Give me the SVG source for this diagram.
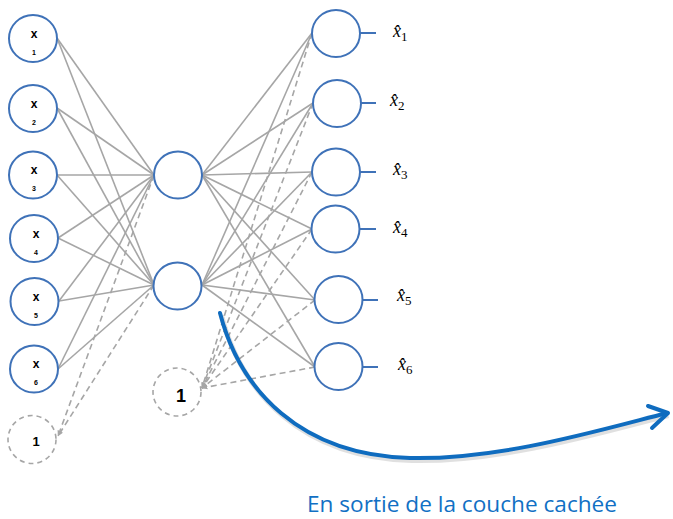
<svg xmlns="http://www.w3.org/2000/svg" width="673" height="519" viewBox="0 0 673 519">
<style>
.n{fill:#fff;stroke:#3F72B8;stroke-width:2}
.b{fill:#fff;stroke:#A6A6A6;stroke-width:1.6;stroke-dasharray:5 4}
.e{stroke:#A6A6A6;stroke-width:1.6;fill:none}
.d{stroke:#A6A6A6;stroke-width:1.6;fill:none;stroke-dasharray:6 4;marker-end:url(#ah)}
.o{stroke:#3F72B8;stroke-width:2}
.xl{font-family:"Liberation Sans",Arial,sans-serif;font-weight:bold;fill:#000;text-anchor:middle}
.hl{font-family:"Liberation Serif","DejaVu Serif",serif;font-size:18px;fill:#000}
</style>
<defs>
<marker id="ah" viewBox="0 0 10 10" refX="9" refY="5" markerWidth="6" markerHeight="6" orient="auto" markerUnits="userSpaceOnUse">
<path d="M0,1 L10,5 L0,9 Z" fill="#A6A6A6"/>
</marker>
</defs>
<g id="connectors">
<g id="in-hidden">
<line class="e" x1="57" y1="38" x2="154" y2="175"/><line class="e" x1="57" y1="38" x2="154" y2="285"/>
<line class="e" x1="57" y1="108" x2="154" y2="175"/><line class="e" x1="57" y1="108" x2="154" y2="285"/>
<line class="e" x1="57" y1="175" x2="154" y2="175"/><line class="e" x1="57" y1="175" x2="154" y2="285"/>
<line class="e" x1="58" y1="238" x2="154" y2="175"/><line class="e" x1="58" y1="238" x2="154" y2="285"/>
<line class="e" x1="59" y1="301" x2="154" y2="175"/><line class="e" x1="59" y1="301" x2="154" y2="285"/>
<line class="e" x1="58" y1="369" x2="154" y2="175"/><line class="e" x1="58" y1="369" x2="154" y2="285"/>
</g>
<g id="hidden-out">
<line class="e" x1="202" y1="175" x2="312" y2="33"/><line class="e" x1="202" y1="285" x2="312" y2="33"/>
<line class="e" x1="202" y1="175" x2="313" y2="103"/><line class="e" x1="202" y1="285" x2="313" y2="103"/>
<line class="e" x1="202" y1="175" x2="312" y2="172"/><line class="e" x1="202" y1="285" x2="312" y2="172"/>
<line class="e" x1="202" y1="175" x2="312" y2="229"/><line class="e" x1="202" y1="285" x2="312" y2="229"/>
<line class="e" x1="202" y1="175" x2="315" y2="300"/><line class="e" x1="202" y1="285" x2="315" y2="300"/>
<line class="e" x1="202" y1="175" x2="315" y2="367"/><line class="e" x1="202" y1="285" x2="315" y2="367"/>
</g>
<g id="bias-dashed">
<line class="d" x1="154" y1="175" x2="58" y2="436"/>
<line class="d" x1="154" y1="285" x2="58" y2="436"/>
<line class="d" x1="312" y1="33" x2="202" y2="388"/>
<line class="d" x1="313" y1="103" x2="202" y2="388"/>
<line class="d" x1="312" y1="172" x2="202" y2="388"/>
<line class="d" x1="312" y1="229" x2="202" y2="388"/>
<line class="d" x1="315" y1="300" x2="202" y2="388"/>
<line class="d" x1="315" y1="367" x2="202" y2="388"/>
</g>
<g id="out-lines">
<line class="o" x1="360" y1="33" x2="376" y2="33"/>
<line class="o" x1="361" y1="103" x2="376" y2="103"/>
<line class="o" x1="360" y1="172" x2="376" y2="172"/>
<line class="o" x1="359" y1="229" x2="376" y2="229"/>
<line class="o" x1="362" y1="300" x2="378" y2="300"/>
<line class="o" x1="362" y1="367" x2="378" y2="367"/>
</g>
<g id="big-arrow">
<path d="M220,313 C240,390 300,455 410,458 C500,460 600,430 667,413" fill="none" stroke="#000" stroke-opacity="0.12" stroke-width="5" transform="translate(1.5,2.5)"/>
<path d="M220,313 C240,390 300,455 410,458 C500,460 600,430 667,413" fill="none" stroke="#0F6CBF" stroke-width="4" stroke-linecap="round"/>
<path d="M648,406 L668,413 L652,428" fill="none" stroke="#0F6CBF" stroke-width="4" stroke-linecap="round" stroke-linejoin="round"/>
</g>
</g>
<g id="x1"><ellipse class="n" cx="33" cy="38.5" rx="24" ry="23.5"/><text class="xl" x="34" y="38" font-size="12">x</text><text class="xl" x="34" y="55" font-size="7">1</text></g>
<g id="x2"><ellipse class="n" cx="33" cy="108.5" rx="24" ry="23.5"/><text class="xl" x="34" y="108" font-size="12">x</text><text class="xl" x="34" y="125" font-size="7">2</text></g>
<g id="x3"><ellipse class="n" cx="33" cy="175" rx="24" ry="23.5"/><text class="xl" x="34" y="174" font-size="12">x</text><text class="xl" x="34" y="191" font-size="7">3</text></g>
<g id="x4"><ellipse class="n" cx="34" cy="238.5" rx="24" ry="23.5"/><text class="xl" x="36" y="238" font-size="12">x</text><text class="xl" x="36" y="255" font-size="7">4</text></g>
<g id="x5"><ellipse class="n" cx="34.5" cy="301.5" rx="24" ry="23.5"/><text class="xl" x="36" y="301" font-size="12">x</text><text class="xl" x="36" y="318" font-size="7">5</text></g>
<g id="x6"><ellipse class="n" cx="34" cy="369" rx="24" ry="23.5"/><text class="xl" x="36" y="368" font-size="12">x</text><text class="xl" x="36" y="385" font-size="7">6</text></g>
<g id="bias1"><circle class="b" cx="32" cy="439.5" r="24"/><text class="xl" x="36" y="446" font-size="13">1</text></g>
<g id="h1"><ellipse class="n" cx="178" cy="175" rx="24" ry="23.5"/></g>
<g id="h2"><ellipse class="n" cx="177.5" cy="286" rx="24" ry="23.5"/></g>
<g id="bias2"><circle class="b" cx="177" cy="392" r="24"/><text class="xl" x="181" y="402" font-size="18">1</text></g>
<g id="o1"><ellipse class="n" cx="336" cy="33.5" rx="24" ry="23.5"/></g>
<g id="o2"><ellipse class="n" cx="337" cy="103.5" rx="24" ry="23.5"/></g>
<g id="o3"><ellipse class="n" cx="336" cy="172" rx="24" ry="23.5"/></g>
<g id="o4"><ellipse class="n" cx="335.5" cy="229" rx="24" ry="23.5"/></g>
<g id="o5"><ellipse class="n" cx="338.5" cy="299.5" rx="24" ry="23.5"/></g>
<g id="o6"><ellipse class="n" cx="338.5" cy="366.5" rx="24" ry="23.5"/></g>
<g id="labels">
<text class="hl" x="393" y="37"><tspan font-style="italic">x̂</tspan><tspan font-size="13" dy="4">1</tspan></text>
<text class="hl" x="390" y="106"><tspan font-style="italic">x̂</tspan><tspan font-size="13" dy="4">2</tspan></text>
<text class="hl" x="393" y="175"><tspan font-style="italic">x̂</tspan><tspan font-size="13" dy="4">3</tspan></text>
<text class="hl" x="393" y="233"><tspan font-style="italic">x̂</tspan><tspan font-size="13" dy="4">4</tspan></text>
<text class="hl" x="397" y="301"><tspan font-style="italic">x̂</tspan><tspan font-size="13" dy="4">5</tspan></text>
<text class="hl" x="398" y="370"><tspan font-style="italic">x̂</tspan><tspan font-size="13" dy="4">6</tspan></text>
<text x="462" y="512" text-anchor="middle" font-family="'Open Sans','Noto Sans',sans-serif" font-size="21" fill="#1170C4" textLength="310" lengthAdjust="spacingAndGlyphs">En sortie de la couche cachée</text>
</g>
</svg>
